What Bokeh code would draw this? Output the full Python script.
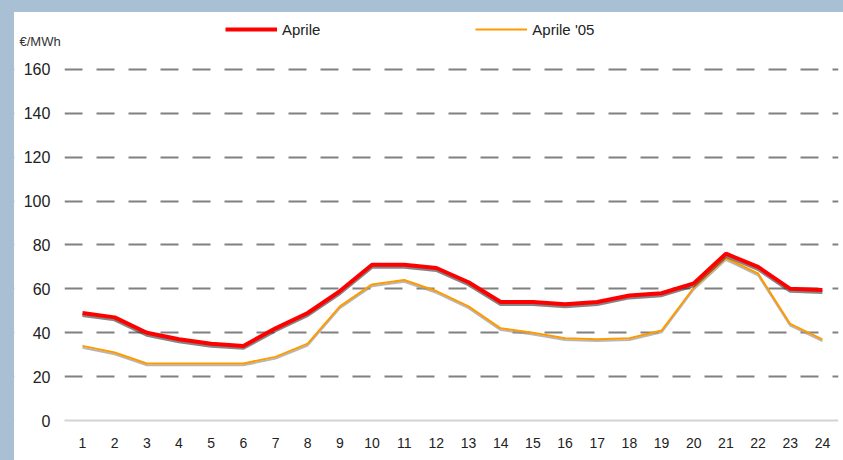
from bokeh.plotting import figure
from bokeh.models import (Legend, LegendItem, Range1d, FixedTicker, Spacer, ColumnDataSource,
                          Label, Grid, BoxAnnotation)
from bokeh.layouts import row, column
from bokeh.transform import dodge
from bokeh.embed import file_html
from bokeh.resources import INLINE

hours = list(range(1, 25))
aprile = [49, 47, 40, 37, 35, 34, 42, 49, 59, 71, 71, 69.5,
          63, 54, 54, 53, 54, 57, 58, 62.5, 76, 70, 60, 59.5]
aprile05 = [34, 31, 26, 26, 26, 26, 29, 35, 52, 62, 64, 59,
            52, 42, 40, 37.5, 37, 37.5, 41, 60.5, 74, 67, 44, 37]
y_ticks = [0, 20, 40, 60, 80, 100, 120, 140, 160]
label_red = "Aprile"
label_orange = "Aprile '05"
y_title = "€/MWh"

BG = "#a9bfd3"
FONT = "Liberation Sans"

src = ColumnDataSource(dict(hour=hours, a=aprile, b=aprile05))

p = figure(width=829, height=448,
           x_range=Range1d(-1.114, 24.5), y_range=Range1d(-4.1, 184.1),
           output_backend="svg", toolbar_location=None,
           min_border_left=0, min_border_right=5, min_border_top=4, min_border_bottom=31)
p.outline_line_color = None
p.background_fill_color = "white"
p.border_fill_color = "white"

# grid: dashed lines at 20..160, solid light line at 0
p.xgrid.grid_line_color = None
p.ygrid.ticker = FixedTicker(ticks=y_ticks[1:])
p.ygrid.grid_line_color = "#808080"
p.ygrid.grid_line_width = 2
p.ygrid.grid_line_dash = "18 14"
p.ygrid.grid_line_dash_offset = 14
zero = Grid(dimension=1, ticker=FixedTicker(ticks=[0]),
            grid_line_color="#d3d3d3", grid_line_width=2)
p.add_layout(zero)
# keep the label column on the left free of grid lines
p.add_layout(BoxAnnotation(right=0.44, fill_color="white", fill_alpha=1,
                           line_color=None, level="underlay"))

# y axis drawn just left of the first hour slot
p.yaxis.fixed_location = 0.5
p.yaxis.ticker = FixedTicker(ticks=y_ticks)
p.yaxis.axis_line_color = None
p.yaxis.major_tick_line_color = None
p.yaxis.minor_tick_line_color = None
p.yaxis.major_tick_out = 0
p.yaxis.major_tick_in = 0
p.yaxis.major_label_standoff = 16
p.yaxis.major_label_text_font = FONT
p.yaxis.major_label_text_font_size = "16px"
p.yaxis.major_label_text_color = "#222222"

p.xaxis.ticker = FixedTicker(ticks=hours)
p.xaxis.axis_line_color = None
p.xaxis.major_tick_line_color = None
p.xaxis.minor_tick_line_color = None
p.xaxis.major_tick_out = 0
p.xaxis.major_label_standoff = 8
p.xaxis.major_label_text_font = FONT
p.xaxis.major_label_text_font_size = "14px"
p.xaxis.major_label_text_color = "#222222"

# lines (with subtle shadows)
p.line(x="hour", y=dodge("b", -0.8), source=src, line_color="#999999", line_width=2, line_alpha=0.7)
r_b = p.line(x="hour", y="b", source=src, line_color="#ff9a00", line_width=2)
p.line(x="hour", y=dodge("a", -0.9), source=src, line_color="#333333", line_width=4, line_alpha=0.6)
r_a = p.line(x="hour", y="a", source=src, line_color="#ff0000", line_width=4)

legend = Legend(items=[LegendItem(label=label_red, renderers=[r_a]),
                       LegendItem(label=label_orange, renderers=[r_b])],
                orientation="horizontal", location=(211, 390),
                padding=0, margin=0, spacing=155,
                glyph_width=52, glyph_height=20, label_standoff=5,
                border_line_alpha=0, background_fill_alpha=0,
                label_text_font=FONT, label_text_font_size="15px",
                label_text_color="#222222")
p.add_layout(legend, "center")

p.add_layout(Label(x=5, y=388, x_units="screen", y_units="screen", text=y_title,
                   text_font=FONT, text_font_size="13px", text_color="#333333",
                   text_baseline="middle"))

top = Spacer(width=843, height=12, styles={"background-color": BG})
left = Spacer(width=14, height=448, styles={"background-color": BG})
layout = column(top, row(left, p))

open("out.html", "w").write(file_html(layout, INLINE))
